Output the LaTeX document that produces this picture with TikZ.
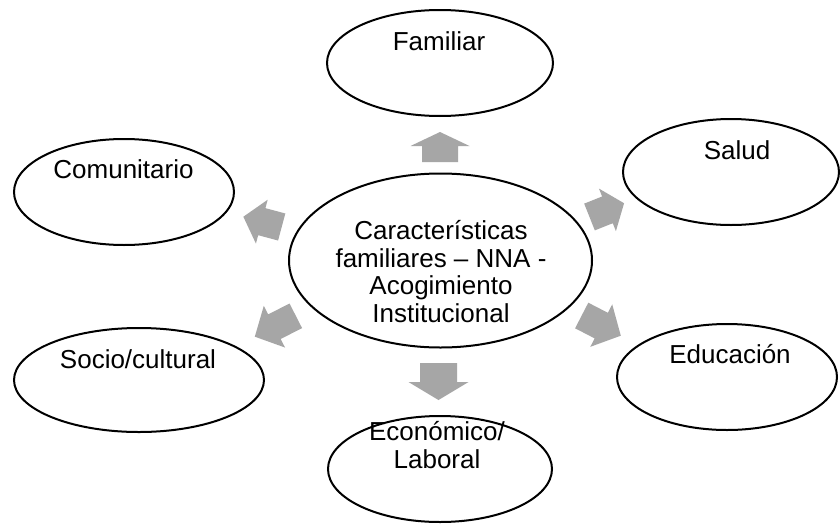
\documentclass[tikz,border=0pt]{standalone}
\usepackage{fontspec}
\setmainfont{Liberation Sans}
\usetikzlibrary{shapes.geometric}
\definecolor{arrgray}{HTML}{A6A6A6}
\tikzset{
  bubble/.style={ellipse, draw=black, line width=2pt, inner sep=0pt, fill=white},
  lbl/.style={font=\fontsize{26}{27.5}\selectfont, inner sep=0pt, anchor=base, align=center, text=black},
  pics/blockarr/.style n args={4}{code={
    \fill[arrgray] (0,-#3) -- (#1,-#3) -- (#1,-#4) -- ({#1+#2},0) -- (#1,#4) -- (#1,#3) -- (0,#3) -- cycle;
  }}
}
\begin{document}
\begin{tikzpicture}[x=1pt,y=-1pt]
\useasboundingbox (0,0) rectangle (840,525);
\fill[white] (0,0) rectangle (840,525);
% ellipses
\node[bubble, minimum width=303pt, minimum height=174pt] (core) at (440.5,260.5) {};
\node[bubble, minimum width=226pt, minimum height=106pt] (fam) at (440,63) {};
\node[bubble, minimum width=220pt, minimum height=106pt] (com) at (124,192) {};
\node[bubble, minimum width=216pt, minimum height=106pt] (sal) at (731,172) {};
\node[bubble, minimum width=220pt, minimum height=106pt] (edu) at (727,377) {};
\node[bubble, minimum width=250pt, minimum height=104pt] (soc) at (139,380) {};
\node[bubble, minimum width=224pt, minimum height=106pt] (eco) at (440,469) {};
% texts (base anchor = baseline of the last line)
\node[lbl] (coret) at (441,322) {Características\\familiares – NNA -\\Acogimiento\\Institucional};
\node[lbl] (famt) at (439,50) {Familiar};
\node[lbl] (comt) at (123.5,178) {Comunitario};
\node[lbl] (salt) at (737,159) {Salud};
\node[lbl] (edut) at (730,363) {Educación};
\node[lbl] (soct) at (138,368) {Socio/cultural};
\node[lbl] (ecot) at (437,468) {Económico/\\Laboral};
% block arrows
\pic[rotate=90] at (440,162) {blockarr={16}{14}{18}{29.5}};
\pic[rotate=270] at (438.5,363) {blockarr={19}{18}{18.5}{30}};
\pic[rotate=165] at (281.7,227) {blockarr={20.6}{19.1}{14}{22.7}};
\pic[rotate=21.7] at (589.5,217) {blockarr={19.3}{17.9}{14.4}{22.9}};
\pic[rotate=207] at (295.8,315.8) {blockarr={24}{22}{13.8}{23.4}};
\pic[rotate=-27.3] at (581.7,315.5) {blockarr={22}{22}{14.4}{23.9}};
\end{tikzpicture}
\end{document}
